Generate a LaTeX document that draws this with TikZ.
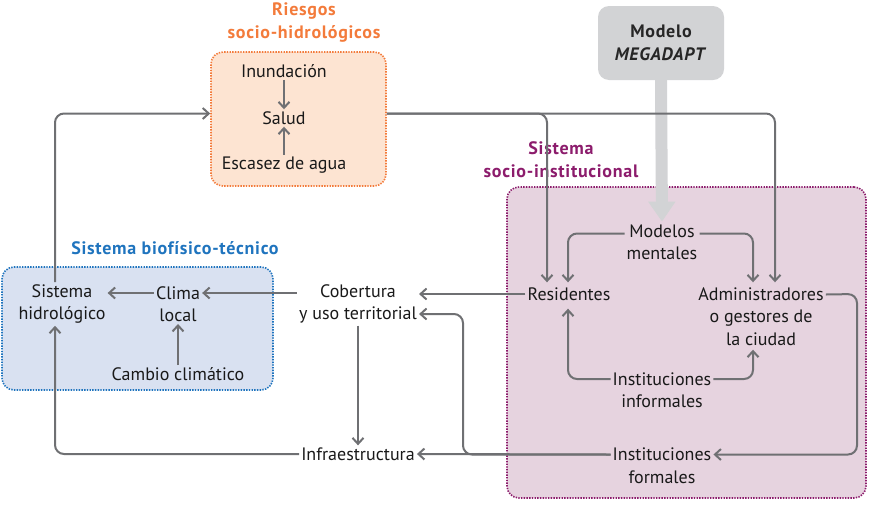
\documentclass[tikz,border=0pt]{standalone}
\usepackage{fontspec}
\setmainfont{PT Sans}
\usetikzlibrary{arrows.meta}
\definecolor{linegray}{HTML}{6F7073}
\definecolor{peachfill}{HTML}{FDE4D2}
\definecolor{orangeb}{HTML}{F37B3B}
\definecolor{mauvefill}{HTML}{E6D3DF}
\definecolor{purpleb}{HTML}{8C1C6C}
\definecolor{bluefill}{HTML}{D9E1F1}
\definecolor{blueb}{HTML}{1F74BE}
\definecolor{modgray}{HTML}{D2D3D5}
\tikzset{
  txt/.style={align=center, inner sep=2pt, font=\fontsize{18}{22.5}\selectfont, text=black!90},
  ttl/.style={align=center, inner sep=1pt, font=\fontsize{18}{22.5}\selectfont\bfseries\addfontfeatures{LetterSpace=4}},
  sysbox/.style={rounded corners=12pt, line width=1.6pt, dash pattern=on 1.4pt off 1.3pt},
  conn/.style={draw=linegray, line width=2pt, rounded corners=9pt, -{Straight Barb[length=6pt,width=11pt,line width=2pt]}},
  bigarrow/.style={draw=modgray, line width=12pt, -{Triangle[length=20pt,width=26pt]}}
}
\begin{document}
\begin{tikzpicture}[x=1pt,y=-1pt]
\useasboundingbox (0,0) rectangle (874,504);
% containers
\node[sysbox, draw=orangeb, fill=peachfill, minimum width=175pt, minimum height=134pt] (riesgos) at (298.5,119) {};
\node[sysbox, draw=purpleb, fill=mauvefill, minimum width=359pt, minimum height=311pt] (socio) at (686.5,342.5) {};
\node[sysbox, draw=blueb, fill=bluefill, minimum width=271pt, minimum height=123pt] (bio) at (137.5,328.5) {};
\node[rounded corners=11pt, fill=modgray, minimum width=126pt, minimum height=74pt] (modelo) at (661,43) {};
% titles
\node[ttl, text=orangeb] (triesgos) at (304,22.5) {Riesgos\\socio-hidrológicos};
\node[ttl, text=purpleb] (tsocio) at (561,159.5) {Sistema\\socio-institucional};
\node[ttl, text=blueb] (tbio) at (175,248) {Sistema biofísico-técnico};
\node[ttl, text=black!85] (tmodelo) at (661,43) {Modelo\\\textit{MEGADAPT}};
% text nodes
\node[txt] (inund) at (284,71) {Inundación};
\node[txt] (salud) at (284,118) {Salud};
\node[txt] (escasez) at (284,165) {Escasez de agua};
\node[txt] (mm) at (662,242.5) {Modelos\\mentales};
\node[txt] (res) at (569,294) {Residentes};
\node[txt] (adm) at (761,316.5) {Administradores\\o gestores de\\la ciudad};
\node[txt] (iinf) at (662,390) {Instituciones\\informales};
\node[txt] (ifor) at (662,465.5) {Instituciones\\formales};
\node[txt] (hidro) at (62,304) {Sistema\\hidrológico};
\node[txt] (clima) at (178,304) {Clima\\local};
\node[txt] (cambio) at (178,374) {Cambio climático};
\node[txt] (cob) at (358,304) {Cobertura\\y uso territorial};
\node[txt] (infra) at (358,454) {Infraestructura};
% big arrow
\draw[bigarrow] (modelo.south) -- ([yshift=1pt]mm.north);
% waypoints
\coordinate (br) at (463,314);
\coordinate (ar) at (857,294);
% connectors
\draw[conn] (inund) -- (salud);
\draw[conn] (escasez) -- (salud);
\draw[conn] ([xshift=-7pt]hidro.north) |- ([yshift=5.5pt]riesgos.west);
\draw[conn] ([yshift=5.5pt]riesgos.east) -| ([xshift=-22pt,yshift=3pt]res.north);
\draw[conn] ([yshift=5.5pt]riesgos.east) -| ([xshift=14pt,yshift=3pt]adm.north);
\draw[conn] ([yshift=9pt]mm.west) -| ([xshift=-1pt,yshift=3pt]res.north);
\draw[conn] ([yshift=9pt]mm.east) -| ([xshift=-8pt,yshift=3pt]adm.north);
\draw[conn] (res.west) -- (cob.east |- res.west);
\draw[conn] ([yshift=11pt]ifor.west) -- (infra.east);
\draw[conn] ([yshift=11pt]ifor.west) -| (br) -- (cob.east |- br);
\draw[conn] ([yshift=22pt]adm.east) -- (ar) |- ([yshift=11pt]ifor.east);
\draw[conn] ([yshift=11pt]iinf.west) -| ([xshift=-1pt,yshift=-6pt]res.south);
\draw[conn] ([yshift=11pt]iinf.east) -| ([xshift=-8pt,yshift=-2pt]adm.south);
\draw[conn] ([yshift=11pt]cob.west) -- ([yshift=11pt]clima.east);
\draw[conn] ([yshift=11pt]clima.west) -- ([yshift=11pt]hidro.east);
\draw[conn] (cambio.north) -- (clima.south);
\draw[conn] (cob.south) -- (infra.north);
\draw[conn] (infra.west) -| ([xshift=-7pt]hidro.south);
\end{tikzpicture}
\end{document}
